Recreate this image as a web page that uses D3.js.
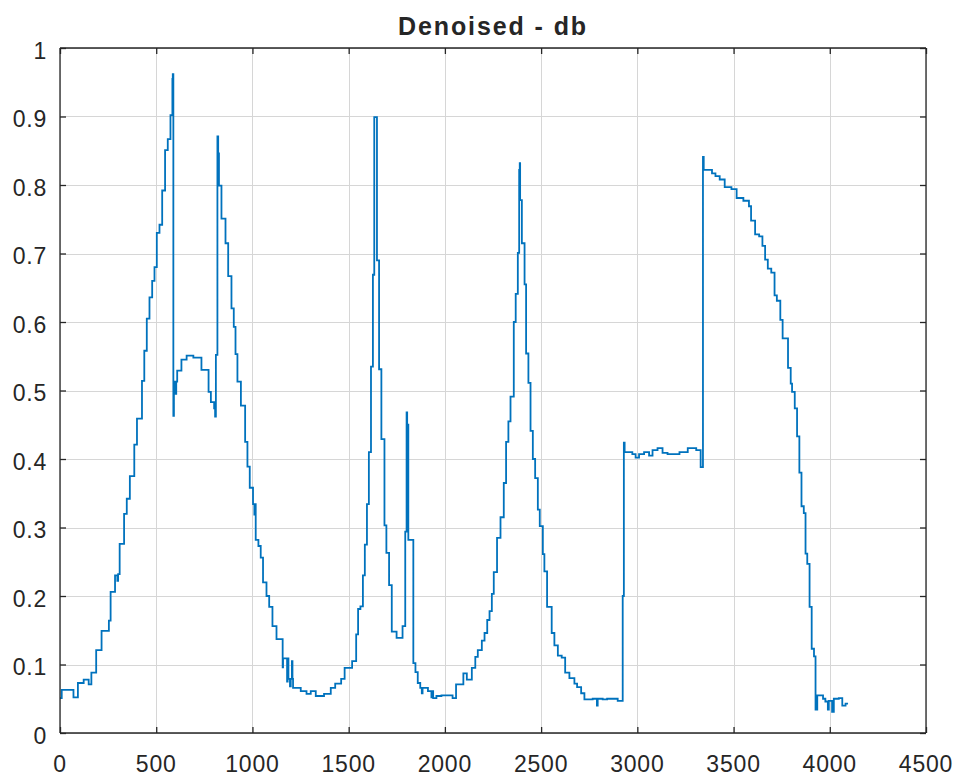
<!DOCTYPE html>
<html>
<head>
<meta charset="utf-8">
<script src="https://cdn.jsdelivr.net/npm/d3@7"></script>
<style>
  html, body { margin: 0; padding: 0; background: #ffffff; }
  svg { display: block; }
  text { font-family: "Liberation Sans", Arial, Helvetica, sans-serif; fill: #262626; }
</style>
</head>
<body>
<svg id="chart" width="958" height="776"></svg>
<script>
// ---- data (step-after: each value holds from its start sample until the next start) ----
const titleText = "Denoised - db";
const xTicks = [0, 500, 1000, 1500, 2000, 2500, 3000, 3500, 4000, 4500];
const yTicks = [0, 0.1, 0.2, 0.3, 0.4, 0.5, 0.6, 0.7, 0.8, 0.9, 1];
const yTickLabels = ["0", "0.1", "0.2", "0.3", "0.4", "0.5", "0.6", "0.7", "0.8", "0.9", "1"];
const lastSample = 4095;

const stepStart = [
  0, 9, 70, 93, 123, 149, 163, 188, 216, 254, 263, 286, 298, 302, 310, 333, 347, 363, 386, 400,
  426, 438, 451, 465, 479, 491, 503, 517, 531, 546, 560, 574, 584, 586, 589, 592, 600, 604, 609, 631,
  658, 693, 735, 772, 784, 801, 806, 810, 818, 822, 826, 839, 860, 874, 891, 903, 912, 922, 940, 962,
  974, 986, 1003, 1010, 1014, 1017, 1031, 1043, 1055, 1073, 1087, 1104, 1125, 1157, 1159, 1180, 1183, 1187, 1195, 1199,
  1205, 1208, 1211, 1251, 1281, 1303, 1329, 1372, 1407, 1430, 1461, 1479, 1518, 1539, 1549, 1561, 1574, 1584, 1595, 1605,
  1616, 1626, 1633, 1647, 1658, 1670, 1686, 1696, 1710, 1724, 1749, 1780, 1794, 1801, 1804, 1806, 1810, 1836, 1847, 1859,
  1872, 1880, 1884, 1912, 1930, 1934, 1939, 1956, 1982, 2040, 2058, 2096, 2114, 2140, 2158, 2171, 2192, 2206, 2220, 2232,
  2244, 2254, 2271, 2289, 2306, 2318, 2330, 2341, 2358, 2368, 2379, 2386, 2389, 2391, 2400, 2414, 2422, 2434, 2445, 2457,
  2469, 2483, 2493, 2509, 2517, 2531, 2555, 2569, 2587, 2607, 2625, 2647, 2673, 2687, 2708, 2725, 2768, 2790, 2794, 2820,
  2843, 2898, 2924, 2930, 2934, 2974, 2991, 3009, 3035, 3061, 3079, 3105, 3131, 3157, 3219, 3262, 3306, 3329, 3341, 3345,
  3388, 3406, 3428, 3454, 3489, 3516, 3551, 3580, 3591, 3612, 3633, 3650, 3664, 3678, 3696, 3713, 3725, 3743, 3755, 3783,
  3797, 3804, 3818, 3830, 3842, 3853, 3865, 3874, 3883, 3895, 3906, 3918, 3926, 3935, 3965, 3977, 3990, 3995, 4012, 4021,
  4047, 4065, 4082
];
const stepValue = [
  0.051, 0.063, 0.052, 0.073, 0.078, 0.071, 0.088, 0.121, 0.149, 0.164, 0.206, 0.230, 0.222, 0.232, 0.276, 0.320, 0.342, 0.375, 0.421, 0.459,
  0.514, 0.558, 0.605, 0.636, 0.660, 0.680, 0.730, 0.742, 0.792, 0.851, 0.867, 0.902, 0.955, 0.962, 0.463, 0.513, 0.495, 0.513, 0.529, 0.545,
  0.551, 0.548, 0.530, 0.498, 0.483, 0.474, 0.462, 0.552, 0.871, 0.846, 0.799, 0.751, 0.715, 0.667, 0.620, 0.593, 0.553, 0.513, 0.478, 0.425,
  0.389, 0.358, 0.334, 0.319, 0.334, 0.282, 0.273, 0.256, 0.220, 0.200, 0.184, 0.156, 0.137, 0.096, 0.109, 0.075, 0.109, 0.079, 0.068, 0.079,
  0.105, 0.079, 0.066, 0.061, 0.057, 0.061, 0.054, 0.057, 0.066, 0.072, 0.079, 0.095, 0.105, 0.144, 0.181, 0.185, 0.230, 0.275, 0.334, 0.410,
  0.535, 0.669, 0.899, 0.690, 0.531, 0.429, 0.303, 0.263, 0.216, 0.148, 0.139, 0.156, 0.294, 0.468, 0.294, 0.450, 0.282, 0.102, 0.089, 0.073,
  0.066, 0.058, 0.066, 0.061, 0.052, 0.061, 0.051, 0.054, 0.055, 0.051, 0.071, 0.087, 0.078, 0.095, 0.111, 0.121, 0.135, 0.146, 0.165, 0.178,
  0.203, 0.235, 0.285, 0.315, 0.365, 0.425, 0.455, 0.491, 0.600, 0.641, 0.701, 0.822, 0.832, 0.778, 0.715, 0.655, 0.554, 0.511, 0.441, 0.400,
  0.372, 0.326, 0.302, 0.261, 0.236, 0.184, 0.146, 0.128, 0.113, 0.110, 0.088, 0.080, 0.072, 0.067, 0.058, 0.049, 0.050, 0.040, 0.050, 0.049,
  0.050, 0.047, 0.200, 0.424, 0.410, 0.407, 0.402, 0.407, 0.410, 0.405, 0.413, 0.416, 0.409, 0.407, 0.410, 0.416, 0.413, 0.388, 0.841, 0.822,
  0.817, 0.813, 0.808, 0.797, 0.794, 0.781, 0.777, 0.769, 0.748, 0.728, 0.725, 0.711, 0.691, 0.678, 0.672, 0.639, 0.631, 0.603, 0.576, 0.533,
  0.510, 0.498, 0.474, 0.433, 0.380, 0.331, 0.321, 0.262, 0.247, 0.184, 0.123, 0.112, 0.034, 0.055, 0.050, 0.046, 0.034, 0.047, 0.031, 0.050,
  0.051, 0.040, 0.043
];

// ---- layout ----
const svg = d3.select("#chart");
const plot = { left: 60, top: 48, right: 926, bottom: 733 };
const axisColor = "#262626";
const gridColor = "#d6d6d6";
const lineColor = "#0072BD";

const x = d3.scaleLinear().domain([0, 4500]).range([plot.left, plot.right]);
const y = d3.scaleLinear().domain([0, 1]).range([plot.bottom, plot.top]);

// grid
const grid = svg.append("g");
grid.selectAll("line.gx").data(xTicks).join("line")
  .attr("x1", d => Math.round(x(d)) + 0.5).attr("x2", d => Math.round(x(d)) + 0.5)
  .attr("y1", plot.top).attr("y2", plot.bottom)
  .attr("stroke", gridColor).attr("stroke-width", 1);
grid.selectAll("line.gy").data(yTicks).join("line")
  .attr("y1", d => Math.round(y(d)) + 0.5).attr("y2", d => Math.round(y(d)) + 0.5)
  .attr("x1", plot.left).attr("x2", plot.right)
  .attr("stroke", gridColor).attr("stroke-width", 1);

// data line
const pts = stepStart.map((s, i) => [s, stepValue[i]]);
pts.push([lastSample, stepValue[stepValue.length - 1]]);
const line = d3.line().x(d => x(d[0])).y(d => y(d[1])).curve(d3.curveStepAfter);
svg.append("path").datum(pts)
  .attr("d", line)
  .attr("fill", "none")
  .attr("stroke", lineColor)
  .attr("stroke-width", 1.8)
  .attr("stroke-linejoin", "miter");

// axes (box with inward ticks on all sides)
const tickLen = 6;
const axBottom = d3.axisBottom(x).tickValues(xTicks).tickSize(-tickLen).tickFormat("");
const axTop = d3.axisTop(x).tickValues(xTicks).tickSize(-tickLen).tickFormat("");
const axLeft = d3.axisLeft(y).tickValues(yTicks).tickSize(-tickLen).tickFormat("");
const axRight = d3.axisRight(y).tickValues(yTicks).tickSize(-tickLen).tickFormat("");

function styleAxis(g) {
  g.selectAll("path.domain").attr("stroke", axisColor).attr("stroke-width", 1.3);
  g.selectAll(".tick line").attr("stroke", axisColor).attr("stroke-width", 1.3);
}
svg.append("g").attr("transform", `translate(0,${plot.bottom})`).call(axBottom).call(styleAxis)
  .select("path.domain").attr("d", `M${plot.left},0H${plot.right}`);
svg.append("g").attr("transform", `translate(0,${plot.top})`).call(axTop).call(styleAxis)
  .select("path.domain").attr("d", `M${plot.left},0H${plot.right}`);
svg.append("g").attr("transform", `translate(${plot.left},0)`).call(axLeft).call(styleAxis)
  .select("path.domain").attr("d", `M0,${plot.top}V${plot.bottom}`);
svg.append("g").attr("transform", `translate(${plot.right},0)`).call(axRight).call(styleAxis)
  .select("path.domain").attr("d", `M0,${plot.top}V${plot.bottom}`);

// tick labels
svg.append("g").selectAll("text").data(xTicks).join("text")
  .attr("x", d => x(d)).attr("y", plot.bottom + 39)
  .attr("text-anchor", "middle")
  .attr("font-size", 23).attr("letter-spacing", 0.8)
  .text(d => String(d));
svg.append("g").selectAll("text").data(yTicks).join("text")
  .attr("x", plot.left - 13).attr("y", d => y(d) + 10.5)
  .attr("text-anchor", "end")
  .attr("font-size", 23).attr("letter-spacing", 0.8)
  .text((d, i) => yTickLabels[i]);

// title
svg.append("text")
  .attr("x", (plot.left + plot.right) / 2).attr("y", 35)
  .attr("text-anchor", "middle")
  .attr("font-size", 25).attr("font-weight", "bold").attr("letter-spacing", 1.9)
  .attr("fill", "#000000")
  .text(titleText);
</script>
</body>
</html>
